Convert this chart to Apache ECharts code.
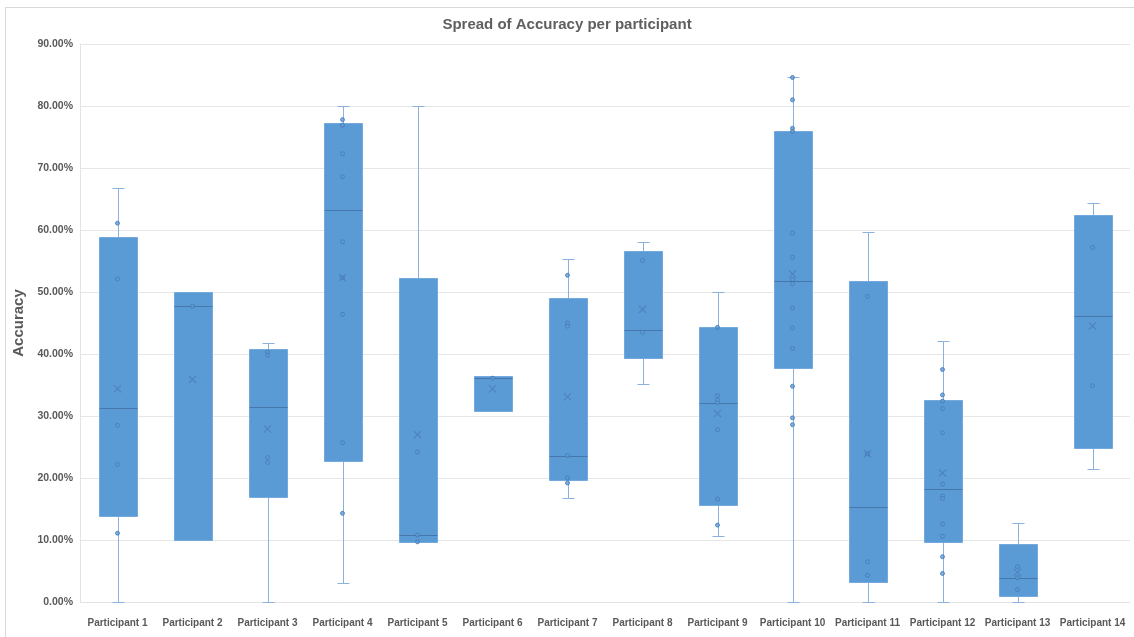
<!DOCTYPE html>
<html>
<head>
<meta charset="utf-8">
<script src="https://cdn.jsdelivr.net/npm/echarts@6/dist/echarts.min.js"></script>
<style>
  html, body { margin: 0; padding: 0; background: #fff; }
  #frame { position: absolute; left: 5px; top: 7px; width: 1140px; height: 640px; border: 1px solid #d9d9d9; }
  #main { position: absolute; left: 0; top: 0; width: 1134px; height: 637px; }
</style>
</head>
<body>
<div id="frame"></div>
<div id="main"></div>
<script>
// participants on the x axis
const categories = ['Participant 1', 'Participant 2', 'Participant 3', 'Participant 4', 'Participant 5',
  'Participant 6', 'Participant 7', 'Participant 8', 'Participant 9', 'Participant 10',
  'Participant 11', 'Participant 12', 'Participant 13', 'Participant 14'];

// five-number summaries, in percent
const minVals    = [0,    10.0, 0,    3.0,  9.6,  30.8, 16.7, 35.2, 10.6, 0,    0,    0,    0,    21.5];
const q1Vals     = [13.9, 10.0, 16.9, 22.8, 9.7,  30.8, 19.6, 39.4, 15.6, 37.8, 3.2,  9.7,  0.9,  24.9];
const medianVals = [31.3, 47.7, 31.4, 63.3, 10.8, 36.1, 23.6, 43.8, 32.1, 51.7, 15.3, 18.2, 3.9,  46.1];
const q3Vals     = [58.9, 50.0, 40.8, 77.2, 52.2, 36.5, 49.0, 56.6, 44.4, 76.0, 51.8, 32.6, 9.3,  62.5];
const maxVals    = [66.7, 50.0, 41.7, 80.0, 80.0, 36.5, 55.3, 58.0, 50.0, 84.6, 59.6, 42.1, 12.8, 64.4];
const meanVals   = [34.4, 35.9, 27.9, 52.3, 27.0, 34.4, 33.1, 47.2, 30.4, 52.9, 23.9, 20.8, 4.8,  44.5];

// individual points shown inside the boxes / along whiskers
const pointVals = [
  [61.1, 52.1, 28.5, 22.2, 11.1],
  [47.7],
  [40.3, 39.8, 23.3, 22.5],
  [77.8, 76.9, 72.3, 68.6, 58.1, 52.3, 46.4, 25.7, 14.3],
  [24.2, 10.8, 9.7],
  [36.1],
  [52.7, 45.0, 44.5, 23.6, 20.0, 19.2],
  [55.1, 43.5],
  [44.3, 33.3, 32.6, 32.1, 27.8, 16.6, 12.4],
  [84.6, 81.0, 76.4, 75.9, 59.5, 55.6, 52.0, 51.3, 47.4, 44.2, 40.9, 34.8, 29.7, 28.6],
  [49.3, 23.9, 6.5, 4.3],
  [37.5, 33.4, 32.4, 31.2, 27.3, 19.0, 17.1, 16.7, 12.6, 10.6, 7.3, 4.6],
  [5.7, 3.9, 2.0],
  [57.2, 34.9]
];

const yTicks = [0, 10, 20, 30, 40, 50, 60, 70, 80, 90];

const boxData = categories.map((c, i) => [i, minVals[i], q1Vals[i], medianVals[i], q3Vals[i], maxVals[i]]);
const meanData = meanVals.map((v, i) => [i, v]);
const pointData = [];
pointVals.forEach((arr, i) => arr.forEach(v => pointData.push([i, v])));

const crisp = v => Math.round(v) + 0.5;

function renderBox(params, api) {
  const i = api.value(0);
  const x = crisp(api.coord([i, 0])[0]);
  const y = v => crisp(api.coord([i, v])[1]);
  const half = Math.round(api.size([1, 0])[0] * 0.255);
  const cap = 6;
  const yMin = y(api.value(1)), yQ1 = y(api.value(2)), yMed = y(api.value(3));
  const yQ3 = y(api.value(4)), yMax = y(api.value(5));
  const whisker = { stroke: '#8bb2df', lineWidth: 1 };
  return {
    type: 'group',
    children: [
      { type: 'line', shape: { x1: x, y1: yMax, x2: x, y2: yQ3 }, style: whisker },
      { type: 'line', shape: { x1: x, y1: yQ1, x2: x, y2: yMin }, style: whisker },
      { type: 'line', shape: { x1: x - cap, y1: yMax, x2: x + cap, y2: yMax }, style: whisker },
      { type: 'line', shape: { x1: x - cap, y1: yMin, x2: x + cap, y2: yMin }, style: whisker },
      { type: 'rect', shape: { x: x - half, y: yQ3, width: half * 2, height: yQ1 - yQ3 },
        style: { fill: '#5b9bd5', stroke: '#74a9de', lineWidth: 1 } },
      { type: 'line', shape: { x1: x - half, y1: yMed, x2: x + half, y2: yMed },
        style: { stroke: '#4676ab', lineWidth: 1 } }
    ]
  };
}

const chart = echarts.init(document.getElementById('main'));
chart.setOption({
  animation: false,
  title: {
    text: 'Spread of Accuracy per participant',
    left: 'center',
    top: 12,
    textStyle: { fontFamily: 'Liberation Sans', fontSize: 15, fontWeight: 'bold', color: '#5f5f5f' }
  },
  grid: { left: 80, right: 4, top: 44, bottom: 35 },
  xAxis: {
    type: 'category',
    data: categories,
    offset: 5,
    axisLine: { lineStyle: { color: '#e3e3e3' } },
    axisTick: { show: false },
    axisLabel: { interval: 0, margin: 11, fontFamily: 'Liberation Sans', fontSize: 10, fontWeight: 'bold', color: '#595959' }
  },
  yAxis: {
    type: 'value',
    min: yTicks[0],
    max: yTicks[yTicks.length - 1],
    interval: 10,
    name: 'Accuracy',
    nameLocation: 'middle',
    nameGap: 53,
    nameTextStyle: { fontFamily: 'Liberation Sans', fontSize: 15, fontWeight: 'bold', color: '#595959' },
    axisLine: { show: true, lineStyle: { color: '#e3e3e3' } },
    axisTick: { show: false },
    axisLabel: { margin: 7, fontFamily: 'Liberation Sans', fontSize: 10.5, fontWeight: 'bold', color: '#595959',
      formatter: v => v.toFixed(2) + '%' },
    splitLine: { lineStyle: { color: '#e6e6e6' } }
  },
  series: [
    {
      type: 'custom',
      renderItem: renderBox,
      encode: { x: 0, y: [1, 2, 3, 4, 5] },
      data: boxData,
      z: 2
    },
    {
      type: 'scatter',
      data: pointData,
      symbol: 'circle',
      symbolSize: 4,
      itemStyle: { color: '#5b9bd5', borderColor: '#4779b3', borderWidth: 1 },
      z: 3
    },
    {
      type: 'scatter',
      data: meanData,
      symbol: 'path://M0,1 L1,0 L5,4 L9,0 L10,1 L6,5 L10,9 L9,10 L5,6 L1,10 L0,9 L4,5 Z',
      symbolSize: 8,
      itemStyle: { color: '#4a7db5', opacity: 0.8 },
      z: 4
    }
  ]
});
</script>
</body>
</html>
